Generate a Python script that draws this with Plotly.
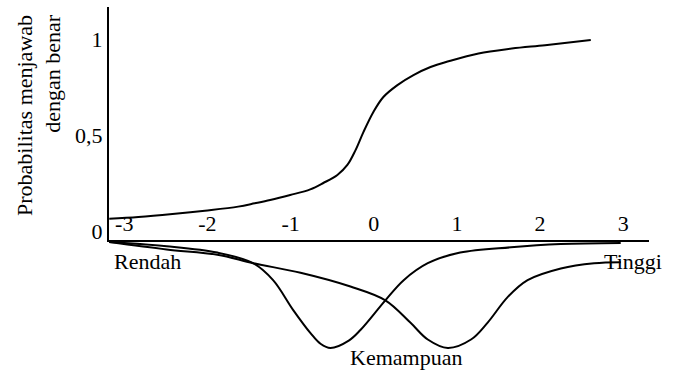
import plotly.graph_objects as go

# item characteristic curve (top panel)
theta_icc = [-3.18, -2.83, -2.42, -2.03, -1.63, -1.43, -1.245, -1.004,
             -0.763, -0.606, -0.437, -0.317, -0.22, -0.124, -0.004, 0.116,
             0.285, 0.478, 0.683, 0.90, 1.26, 1.66, 2.06, 2.61]
p_icc = [0.064, 0.073, 0.0885, 0.106, 0.127, 0.144, 0.161, 0.1875,
         0.217, 0.25, 0.292, 0.344, 0.42, 0.515, 0.620, 0.698,
         0.760, 0.812, 0.854, 0.884, 0.925, 0.950, 0.968, 0.995]

# two ability distributions hanging below the axis (bottom panel)
theta_low = [-3.19, -2.49, -1.88, -1.45, -1.21, -0.97, -0.76, -0.64, -0.52,
             -0.30, -0.16, 0.14, 0.36, 0.65, 1.04, 1.65, 2.25, 2.97]
dens_low = [0.0, 0.04, 0.10, 0.20, 0.36, 0.64, 0.86, 0.96, 1.0,
            0.93, 0.83, 0.55, 0.36, 0.20, 0.10, 0.05, 0.02, 0.01]

theta_high = [-3.19, -2.49, -1.88, -1.45, -0.88, -0.28, 0.14, 0.44, 0.65,
              0.89, 1.17, 1.37, 1.61, 1.85, 2.25, 2.65, 2.97]
dens_high = [0.0, 0.07, 0.12, 0.20, 0.29, 0.42, 0.55, 0.76, 0.92,
             1.0, 0.92, 0.76, 0.52, 0.36, 0.25, 0.20, 0.19]

x_ticks = [-3, -2, -1, 0, 1, 2, 3]
x_ticktext = ["-3", "-2", "-1", "0", "1", "2", "3"]
y_ticks = [0, 0.5, 1]
y_ticktext = ["0", "0,5", "1"]

FONT = dict(family="Liberation Serif", size=22, color="black")
LINE = dict(color="black", width=2, shape="spline", smoothing=1)

fig = go.Figure()

fig.add_trace(go.Scatter(x=theta_icc, y=p_icc, mode="lines", line=LINE,
                         xaxis="x", yaxis="y", showlegend=False))
fig.add_trace(go.Scatter(x=theta_low, y=dens_low, mode="lines", line=LINE,
                         xaxis="x", yaxis="y2", showlegend=False))
fig.add_trace(go.Scatter(x=theta_high, y=dens_high, mode="lines", line=LINE,
                         xaxis="x", yaxis="y2", showlegend=False))

split = 110 / 345  # axis line sits 110 px above the bottom of the plot area

fig.update_layout(
    width=673, height=374,
    margin=dict(l=109, r=24, t=7, b=22),
    paper_bgcolor="white", plot_bgcolor="white",
    font=FONT,
    # x axis hangs on top of the lower panel so its labels sit above the line
    xaxis=dict(range=[-3.183, 3.31], anchor="y2", side="top",
               showgrid=False, zeroline=False,
               showline=True, linecolor="black", linewidth=2,
               tickvals=x_ticks, ticktext=x_ticktext, ticks=""),
    yaxis=dict(domain=[split, 1], range=[-0.0573, 1.1667], anchor="x",
               showgrid=False, zeroline=False, showline=True,
               linecolor="black", linewidth=2, tickvals=y_ticks,
               ticktext=y_ticktext, ticks=""),
    yaxis2=dict(domain=[0, split], range=[1.0377, 0], anchor="x",
                showgrid=False, zeroline=False, showline=False,
                showticklabels=False),
    annotations=[
        dict(text="Probabilitas menjawab<br>dengan benar", textangle=-90,
             xref="paper", yref="paper", x=-0.13, y=0.985,
             xanchor="center", yanchor="top", align="right",
             showarrow=False, font=FONT),
        dict(text="Rendah", xref="paper", yref="paper", x=0.0056, y=0.261,
             xanchor="left", yanchor="middle", showarrow=False),
        dict(text="Tinggi", xref="paper", yref="paper", x=0.913, y=0.261,
             xanchor="left", yanchor="middle", showarrow=False),
        dict(text="Kemampuan", xref="paper", yref="paper", x=0.4426, y=-0.0145,
             xanchor="left", yanchor="middle", showarrow=False),
    ],
)

fig.write_html("out.html", config={"displayModeBar": False},
               post_script="document.body.style.margin='0';")
